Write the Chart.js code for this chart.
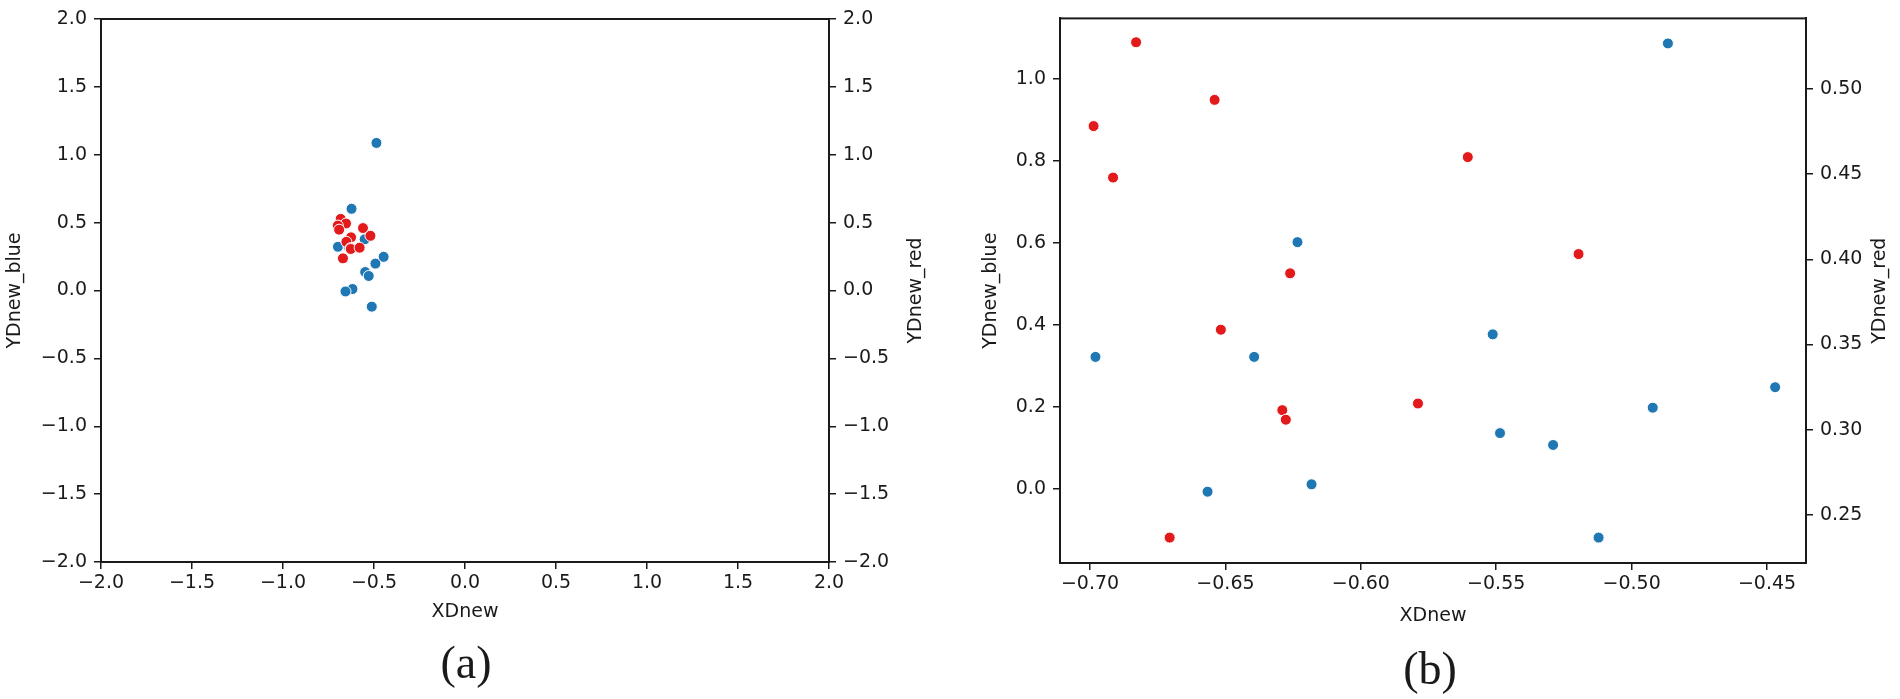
<!DOCTYPE html>
<html>
<head>
<meta charset="utf-8">
<title>XDnew scatter</title>
<script src="https://cdn.jsdelivr.net/npm/chart.js@4.4.1/dist/chart.umd.min.js"></script>
<style>
  html, body { margin: 0; padding: 0; background: #fff; }
  #wrap { position: relative; width: 1900px; height: 699px; overflow: hidden; }
  .box { position: absolute; top: 0; width: 950px; height: 699px; }
</style>
</head>
<body>
<div id="wrap">
  <div class="box" style="left:0"><canvas id="chart-a"></canvas></div>
  <div class="box" style="left:950px"><canvas id="chart-b"></canvas></div>
</div>
<script>
/* values, same points in both panels */
const xBlue = [-0.4866, -0.6234, -0.6980, -0.6394, -0.5513, -0.4470, -0.4922, -0.5486, -0.5290, -0.6182, -0.6566, -0.5122];
const yBlue = [1.087, 0.602, 0.322, 0.322, 0.377, 0.248, 0.198, 0.136, 0.107, 0.011, -0.007, -0.119];
const xRed  = [-0.6830, -0.6540, -0.6987, -0.6915, -0.5605, -0.5196, -0.6261, -0.6517, -0.6290, -0.6277, -0.5789, -0.6706];
const yRed  = [0.5274, 0.4936, 0.4782, 0.4480, 0.4600, 0.4031, 0.3918, 0.3587, 0.3115, 0.3059, 0.3154, 0.2367];

/* axis limits [min, max, step] */
const limA_x = [-2, 2, 0.5];
const limA_y = [-2, 2, 0.5];
const limB_x = [-0.7111, -0.4356, 0.05];
const limB_y = [-0.181, 1.148, 0.2];
const limB_y2 = [0.2218, 0.5414, 0.05];

const FONT = "'DejaVu Sans', sans-serif";
const INK = '#1a1a1a';
const BLUE = '#1f77b4';
const RED = '#e31a1c';

const fmt = d => v => Number(v).toFixed(d).replace('-', '\u2212');
const pts = (xs, ys) => xs.map((x, i) => ({ x, y: ys[i] }));

/* frame box, upright right-hand title and the (a)/(b) caption */
const framePlugin = {
  id: 'frame',
  afterDraw(chart, args, o) {
    const { ctx, chartArea: a } = chart;
    ctx.save();
    ctx.strokeStyle = INK;
    ctx.lineWidth = 2;
    ctx.strokeRect(a.left, a.top, a.right - a.left, a.bottom - a.top);

    ctx.fillStyle = INK;
    ctx.textAlign = 'center';
    ctx.textBaseline = 'middle';
    ctx.save();
    ctx.font = '19px ' + FONT;
    ctx.translate(o.rightX, (a.top + a.bottom) / 2);
    ctx.rotate(-Math.PI / 2);
    ctx.fillText(o.rightTitle, 0, 0);
    ctx.restore();

    ctx.font = "46px 'Liberation Serif', 'Times New Roman', serif";
    ctx.fillText(o.caption, o.capX, o.capY);
    ctx.restore();
  }
};

function axis(pos, lim, dec, size, title, titlePad) {
  const horiz = pos === 'bottom';
  return {
    type: 'linear',
    position: pos,
    min: lim[0], max: lim[1],
    afterFit(s) { if (horiz) s.height = size; else s.width = size; },
    ticks: {
      stepSize: lim[2], includeBounds: false, autoSkip: false, maxRotation: 0,
      callback: fmt(dec), color: INK, font: { family: FONT, size: 19 },
      padding: horiz ? 3 : 7
    },
    grid: { drawOnChartArea: false, drawTicks: true, tickLength: 7, color: INK, lineWidth: 1.5 },
    border: { display: true, color: INK, width: 2 },
    title: {
      display: !!title, text: title || '', color: INK,
      font: { family: FONT, size: 19 },
      padding: horiz ? { top: 0, bottom: titlePad } : { top: titlePad, bottom: 0 }
    }
  };
}

function makeChart(id, cfg) {
  return new Chart(document.getElementById(id), {
    type: 'scatter',
    data: {
      datasets: [
        { label: 'red', data: pts(xRed, yRed), yAxisID: 'y2', order: 0,
          backgroundColor: RED, borderColor: '#fff', borderWidth: 1, pointRadius: 5.5, pointHoverRadius: 5.5 },
        { label: 'blue', data: pts(xBlue, yBlue), yAxisID: 'y', order: 1,
          backgroundColor: BLUE, borderColor: '#fff', borderWidth: 1, pointRadius: 5.5, pointHoverRadius: 5.5 }
      ]
    },
    options: {
      responsive: true, maintainAspectRatio: false, animation: false, devicePixelRatio: 1,
      layout: { padding: { top: cfg.top, left: 0, right: 0, bottom: 0 } },
      plugins: { legend: { display: false }, tooltip: { enabled: false }, frame: cfg.frame },
      scales: {
        x: axis('bottom', cfg.limX, cfg.decX, cfg.xH, 'XDnew', cfg.xTitlePad),
        y: axis('left', cfg.limY, cfg.decY, cfg.yW, 'YDnew_blue', cfg.yTitlePad),
        y2: axis('right', cfg.limY2, cfg.decY2, cfg.y2W, null, 0)
      }
    },
    plugins: [framePlugin]
  });
}

makeChart('chart-a', {
  top: 19, xH: 137, yW: 101, y2W: 121,
  limX: limA_x, limY: limA_y, limY2: limA_y, decX: 1, decY: 1, decY2: 1,
  xTitlePad: 76, yTitlePad: 4,
  frame: { rightTitle: 'YDnew_red', rightX: 916, caption: '(a)', capX: 466, capY: 666 }
});

makeChart('chart-b', {
  top: 7, xH: 136, yW: 110, y2W: 94,
  limX: limB_x, limY: limB_y, limY2: limB_y2, decX: 2, decY: 1, decY2: 2,
  xTitlePad: 72, yTitlePad: 30,
  frame: { rightTitle: 'YDnew_red', rightX: 930, caption: '(b)', capX: 480, capY: 672 }
});
</script>
</body>
</html>
